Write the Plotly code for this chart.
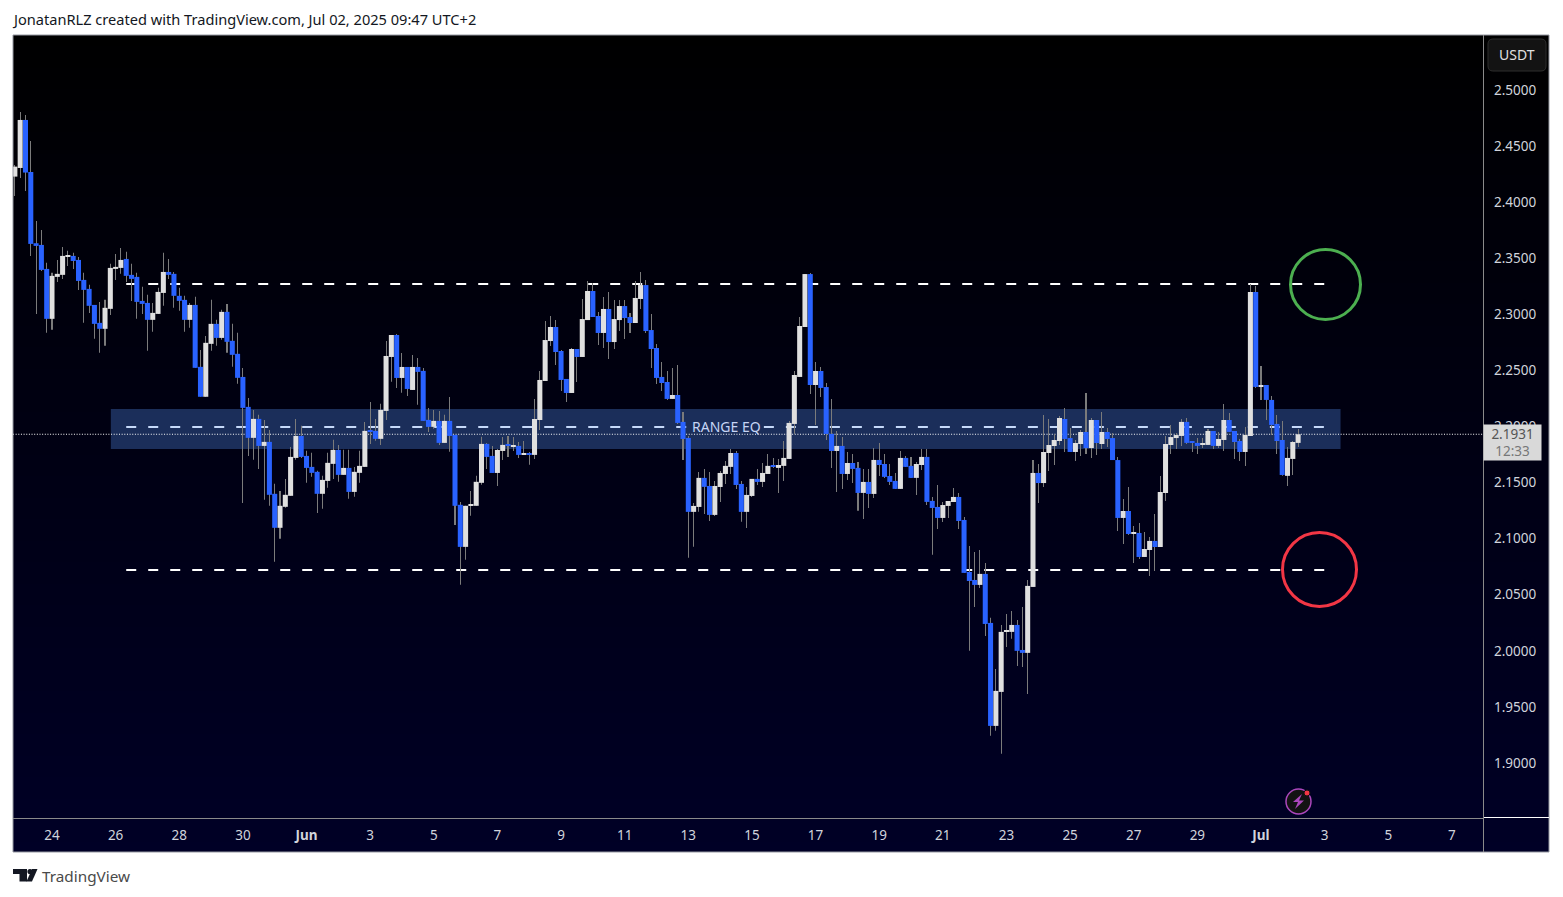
import pandas as pd
import plotly.graph_objects as go

opens = [
    2.4228, 2.4305, 2.4733, 2.4269, 2.3634, 2.3619, 2.3405, 2.2960, 2.3334, 2.3352,
    2.3512, 2.3521, 2.3485, 2.3307, 2.3227, 2.3084, 2.2924, 2.2871, 2.3049, 2.3405,
    2.3414, 2.3494, 2.3352, 2.3334, 2.3120, 2.3102, 2.2951, 2.3004, 2.3191, 2.3378,
    2.3361, 2.3165, 2.3129, 2.2951, 2.3084, 2.2532, 2.2265, 2.2737, 2.2915, 2.2790,
    2.3022, 2.2764, 2.2648, 2.2442, 2.2175, 2.1899, 2.2068, 2.1827, 2.1863, 2.1400,
    2.1097, 2.1284, 2.1382, 2.1720, 2.1916, 2.1738, 2.1640, 2.1596, 2.1400, 2.1515,
    2.1667, 2.1792, 2.1569, 2.1631, 2.1417, 2.1587, 2.1640, 2.1961, 2.1961, 2.1890,
    2.2139, 2.2620, 2.2816, 2.2433, 2.2531, 2.2326, 2.2531, 2.2496, 2.2059, 2.1997,
    2.2050, 2.1854, 2.2050, 2.1925, 2.1302, 2.0927, 2.1293, 2.1293, 2.1498, 2.1845,
    2.1738, 2.1586, 2.1782, 2.1836, 2.1818, 2.1827, 2.1747, 2.1764, 2.1747, 2.2058,
    2.2406, 2.2762, 2.2887, 2.2673, 2.2424, 2.2299, 2.2691, 2.2620, 2.2949, 2.3208,
    2.2985, 2.2834, 2.3048, 2.2753, 2.2949, 2.3074, 2.2976, 2.2923, 2.3137, 2.3261,
    2.2860, 2.2700, 2.2442, 2.2397, 2.2246, 2.2281, 2.2041, 2.1898, 2.1239, 2.1283,
    2.1542, 2.1470, 2.1212, 2.1461, 2.1577, 2.1640, 2.1764, 2.1488, 2.1239, 2.1381,
    2.1533, 2.1506, 2.1577, 2.1649, 2.1631, 2.1649, 2.1711, 2.2023, 2.2442, 2.2887,
    2.3359, 2.2370, 2.2495, 2.2352, 2.1934, 2.1782, 2.1827, 2.1577, 2.1675, 2.1631,
    2.1408, 2.1506, 2.1399, 2.1702, 2.1666, 2.1559, 2.1515, 2.1444, 2.1720, 2.1649,
    2.1542, 2.1657, 2.1729, 2.1337, 2.1283, 2.1185, 2.1292, 2.1327, 2.1372, 2.1167,
    2.0703, 2.0632, 2.0588, 2.0686, 2.0249, 1.9331, 1.9634, 2.0169, 2.0169, 2.0231,
    2.0008, 1.9982, 2.0570, 2.1586, 2.1496, 2.1764, 2.1826, 2.1871, 2.2067, 2.1897,
    2.1773, 2.1844, 2.1951, 2.1808, 2.2058, 2.1844, 2.1951, 2.1897, 2.1701, 2.1185,
    2.1247, 2.1042, 2.1051, 2.0837, 2.0899, 2.0980, 2.0926, 2.1407, 2.1835, 2.1897,
    2.1916, 2.2041, 2.1862, 2.1854, 2.1836, 2.1836, 2.1960, 2.1827, 2.1880, 2.2058,
    2.1960, 2.1871, 2.1773, 2.1916, 2.3199, 2.2361, 2.2370, 2.2237, 2.2023, 2.1880,
    2.1560, 2.1711, 2.1854,
]
closes = [
    2.4317, 2.4733, 2.4264, 2.3628, 2.3610, 2.3396, 2.2960, 2.3343, 2.3361, 2.3521,
    2.3521, 2.3476, 2.3298, 2.3218, 2.3076, 2.2915, 2.2871, 2.3058, 2.3414, 2.3423,
    2.3485, 2.3343, 2.3316, 2.3111, 2.3093, 2.2951, 2.3013, 2.3200, 2.3378, 2.3352,
    2.3165, 2.3120, 2.2951, 2.3084, 2.2523, 2.2265, 2.2746, 2.2915, 2.2790, 2.3022,
    2.2755, 2.2639, 2.2434, 2.2166, 2.1899, 2.2068, 2.1827, 2.1863, 2.1391, 2.1097,
    2.1293, 2.1391, 2.1729, 2.1916, 2.1729, 2.1631, 2.1587, 2.1400, 2.1524, 2.1676,
    2.1792, 2.1569, 2.1631, 2.1417, 2.1596, 2.1649, 2.1961, 2.1952, 2.1890, 2.2148,
    2.2629, 2.2816, 2.2433, 2.2531, 2.2335, 2.2531, 2.2487, 2.2050, 2.1997, 2.2050,
    2.1854, 2.2050, 2.1916, 2.1293, 2.0927, 2.1293, 2.1302, 2.1507, 2.1845, 2.1729,
    2.1586, 2.1791, 2.1836, 2.1827, 2.1827, 2.1747, 2.1764, 2.1747, 2.2067, 2.2415,
    2.2771, 2.2887, 2.2664, 2.2415, 2.2299, 2.2691, 2.2620, 2.2958, 2.3208, 2.2976,
    2.2834, 2.3048, 2.2753, 2.2958, 2.3074, 2.2967, 2.2923, 2.3146, 2.3261, 2.2851,
    2.2691, 2.2433, 2.2388, 2.2246, 2.2281, 2.2032, 2.1889, 2.1239, 2.1292, 2.1542,
    2.1462, 2.1212, 2.1470, 2.1586, 2.1649, 2.1764, 2.1479, 2.1239, 2.1390, 2.1533,
    2.1506, 2.1586, 2.1649, 2.1640, 2.1657, 2.1720, 2.2032, 2.2459, 2.2896, 2.3359,
    2.2370, 2.2495, 2.2344, 2.1934, 2.1782, 2.1827, 2.1577, 2.1675, 2.1622, 2.1408,
    2.1506, 2.1399, 2.1702, 2.1657, 2.1551, 2.1506, 2.1444, 2.1720, 2.1640, 2.1542,
    2.1666, 2.1729, 2.1328, 2.1274, 2.1185, 2.1300, 2.1336, 2.1372, 2.1158, 2.0695,
    2.0623, 2.0588, 2.0686, 2.0240, 1.9331, 1.9643, 2.0169, 2.0178, 2.0231, 2.0000,
    1.9982, 2.0579, 2.1586, 2.1496, 2.1773, 2.1835, 2.1880, 2.2076, 2.1889, 2.1773,
    2.1853, 2.1951, 2.1808, 2.2058, 2.1853, 2.1951, 2.1889, 2.1701, 2.1185, 2.1247,
    2.1042, 2.1051, 2.0837, 2.0908, 2.0980, 2.0926, 2.1416, 2.1844, 2.1906, 2.1924,
    2.2041, 2.1854, 2.1854, 2.1827, 2.1845, 2.1960, 2.1827, 2.1889, 2.2058, 2.1952,
    2.1862, 2.1773, 2.1925, 2.3199, 2.2353, 2.2370, 2.2237, 2.2014, 2.1871, 2.1568,
    2.1720, 2.1862, 2.1931,
]
highs = [
    2.4332, 2.4804, 2.4777, 2.4546, 2.3833, 2.3753, 2.3459, 2.3370, 2.3485, 2.3601,
    2.3566, 2.3548, 2.3512, 2.3370, 2.3263, 2.3084, 2.3111, 2.3129, 2.3450, 2.3539,
    2.3592, 2.3557, 2.3450, 2.3370, 2.3245, 2.3174, 2.3102, 2.3236, 2.3548, 2.3494,
    2.3378, 2.3236, 2.3165, 2.3102, 2.3156, 2.2683, 2.2808, 2.3129, 2.2951, 2.3040,
    2.3093, 2.2915, 2.2835, 2.2522, 2.2255, 2.2148, 2.2104, 2.2059, 2.1970, 2.1489,
    2.1426, 2.1533, 2.1818, 2.2068, 2.2006, 2.1783, 2.1765, 2.1605, 2.1560, 2.1765,
    2.1881, 2.1836, 2.1792, 2.1792, 2.1640, 2.1783, 2.2041, 2.2219, 2.2068, 2.2202,
    2.2763, 2.2816, 2.2825, 2.2656, 2.2531, 2.2638, 2.2611, 2.2522, 2.2166, 2.2148,
    2.2139, 2.2104, 2.2264, 2.1925, 2.1328, 2.1293, 2.1426, 2.1560, 2.1908, 2.1854,
    2.1827, 2.1800, 2.1907, 2.1916, 2.1907, 2.1862, 2.1871, 2.1773, 2.2246, 2.2495,
    2.2941, 2.2985, 2.2949, 2.2682, 2.2424, 2.2700, 2.2691, 2.3137, 2.3297, 2.3279,
    2.3021, 2.3154, 2.3199, 2.3128, 2.3128, 2.3128, 2.3012, 2.3297, 2.3377, 2.3306,
    2.3003, 2.2736, 2.2575, 2.2495, 2.2522, 2.2549, 2.2130, 2.1916, 2.1319, 2.1595,
    2.1622, 2.1595, 2.1515, 2.1604, 2.1693, 2.1800, 2.1782, 2.1515, 2.1461, 2.1533,
    2.1622, 2.1675, 2.1755, 2.1720, 2.1711, 2.1871, 2.2049, 2.2495, 2.2976, 2.3359,
    2.3368, 2.2575, 2.2531, 2.2388, 2.2246, 2.1960, 2.1907, 2.1773, 2.1755, 2.1684,
    2.1622, 2.1622, 2.1809, 2.1853, 2.1755, 2.1666, 2.1586, 2.1782, 2.1738, 2.1729,
    2.1684, 2.1800, 2.1800, 2.1372, 2.1479, 2.1327, 2.1336, 2.1452, 2.1407, 2.1194,
    2.0935, 2.0882, 2.0899, 2.0784, 2.0294, 1.9839, 2.0231, 2.0329, 2.0356, 2.0276,
    2.0392, 2.0632, 2.1701, 2.1666, 2.2102, 2.2067, 2.1933, 2.2093, 2.2165, 2.1987,
    2.1880, 2.1969, 2.2299, 2.2076, 2.2058, 2.2129, 2.1987, 2.1942, 2.1728, 2.1354,
    2.1461, 2.1113, 2.1140, 2.1060, 2.1015, 2.1220, 2.1559, 2.1915, 2.2013, 2.1942,
    2.2067, 2.2076, 2.1862, 2.1898, 2.1898, 2.1978, 2.1960, 2.1952, 2.2201, 2.2121,
    2.1960, 2.1889, 2.1996, 2.3270, 2.3252, 2.2540, 2.2370, 2.2272, 2.2103, 2.2050,
    2.1818, 2.1871, 2.1978,
]
lows = [
    2.4056, 2.4216, 2.4100, 2.3521, 2.3004, 2.3387, 2.2835, 2.2862, 2.3289, 2.3316,
    2.3432, 2.3405, 2.3218, 2.2924, 2.3013, 2.2782, 2.2657, 2.2719, 2.2995, 2.3307,
    2.3361, 2.3289, 2.3120, 2.2960, 2.3004, 2.2675, 2.2844, 2.3004, 2.3076, 2.3316,
    2.3058, 2.3031, 2.2844, 2.2880, 2.2523, 2.2265, 2.2265, 2.2675, 2.2719, 2.2773,
    2.2657, 2.2532, 2.2381, 2.1319, 2.1738, 2.1703, 2.1622, 2.1346, 2.1293, 2.0794,
    2.0999, 2.1275, 2.1382, 2.1703, 2.1720, 2.1498, 2.1551, 2.1230, 2.1266, 2.1453,
    2.1533, 2.1507, 2.1569, 2.1355, 2.1373, 2.1498, 2.1640, 2.1845, 2.1872, 2.1836,
    2.2059, 2.2398, 2.2344, 2.2300, 2.2273, 2.2326, 2.2193, 2.2050, 2.1952, 2.1979,
    2.1836, 2.1854, 2.1774, 2.1123, 2.0589, 2.0812, 2.1204, 2.1293, 2.1480, 2.1622,
    2.1586, 2.1470, 2.1702, 2.1729, 2.1782, 2.1720, 2.1747, 2.1658, 2.1711, 2.1969,
    2.2406, 2.2718, 2.2549, 2.2317, 2.2219, 2.2299, 2.2397, 2.2620, 2.2949, 2.2976,
    2.2727, 2.2700, 2.2602, 2.2691, 2.2851, 2.2780, 2.2834, 2.2923, 2.3048, 2.2834,
    2.2522, 2.2379, 2.2317, 2.2237, 2.2246, 2.2023, 2.1702, 2.0829, 2.0927, 2.1239,
    2.1221, 2.1158, 2.1203, 2.1328, 2.1488, 2.1577, 2.1444, 2.1150, 2.1096, 2.1372,
    2.1479, 2.1461, 2.1577, 2.1631, 2.1408, 2.1515, 2.1711, 2.1934, 2.2442, 2.2887,
    2.2290, 2.2014, 2.2263, 2.1880, 2.1631, 2.1417, 2.1444, 2.1524, 2.1497, 2.1248,
    2.1176, 2.1274, 2.1363, 2.1559, 2.1542, 2.1479, 2.1444, 2.1444, 2.1640, 2.1542,
    2.1390, 2.1613, 2.1301, 2.0856, 2.1087, 2.1149, 2.1185, 2.1327, 2.1087, 2.0695,
    2.0000, 2.0392, 2.0561, 2.0133, 1.9242, 1.9287, 1.9082, 2.0035, 2.0107, 1.9866,
    1.9857, 1.9616, 2.0570, 2.1318, 2.1461, 2.1603, 2.1657, 2.1835, 2.1773, 2.1773,
    2.1692, 2.1737, 2.1755, 2.1719, 2.1746, 2.1799, 2.1817, 2.1701, 2.1069, 2.0953,
    2.1033, 2.0784, 2.0819, 2.0837, 2.0668, 2.0712, 2.0926, 2.1336, 2.1755, 2.1799,
    2.1827, 2.1845, 2.1773, 2.1756, 2.1809, 2.1836, 2.1800, 2.1809, 2.1782, 2.1952,
    2.1711, 2.1693, 2.1649, 2.1916, 2.2344, 2.2237, 2.2058, 2.1925, 2.1756, 2.1560,
    2.1470, 2.1568, 2.1818,
]
first_candle = "2025-05-22 22:00"

price_ticks = [2.50, 2.45, 2.40, 2.35, 2.30, 2.25, 2.20, 2.15, 2.10, 2.05, 2.00, 1.95, 1.90]
date_ticks = [
    "05-24", "05-26", "05-28", "05-30", "06-01", "06-03", "06-05", "06-07", "06-09", "06-11", "06-13", "06-15",
    "06-17", "06-19", "06-21", "06-23", "06-25", "06-27", "06-29", "07-01", "07-03", "07-05", "07-07",
]
date_labels = [
    "24", "26", "28", "30", "<b>Jun</b>", "3", "5", "7", "9", "11", "13", "15",
    "17", "19", "21", "23", "25", "27", "29", "<b>Jul</b>", "3", "5", "7",
]
range_high = 2.327
range_mid = 2.1996
range_low = 2.072
band_top = 2.2156
band_bottom = 2.1800

UP = "#e0e0e0"
DOWN = "#2962ff"
WICK = "#7b7b7b"
FONT = "Noto Sans"

# the browser keeps an 8px body margin, which is part of the white edge of the picture
FIG_W = 1547
FIG_H = 881
HOUR_MS = 3600000
CANDLE_MS = 4 * HOUR_MS
PX_PER_DAY = 31.816


def fx(px):
    return (px - 8) / FIG_W


def fy(px):
    return 1 - (px - 8) / FIG_H


def price_at(px):
    return 2.5 - (px - 90) / 1121.7


def date_at(px):
    return pd.Timestamp("2025-07-01 02:00") + pd.Timedelta(days=(px - 1261) / PX_PER_DAY)


def px_path(points, close=True):
    parts = [f"{'M' if i == 0 else 'L'}{fx(x):.5f},{fy(y):.5f}" for i, (x, y) in enumerate(points)]
    return " ".join(parts) + (" Z" if close else "")


def rounded_rect(x0, y0, x1, y1, r):
    return (
        f"M{fx(x0 + r):.5f},{fy(y0):.5f} L{fx(x1 - r):.5f},{fy(y0):.5f} "
        f"Q{fx(x1):.5f},{fy(y0):.5f} {fx(x1):.5f},{fy(y0 + r):.5f} "
        f"L{fx(x1):.5f},{fy(y1 - r):.5f} Q{fx(x1):.5f},{fy(y1):.5f} {fx(x1 - r):.5f},{fy(y1):.5f} "
        f"L{fx(x0 + r):.5f},{fy(y1):.5f} Q{fx(x0):.5f},{fy(y1):.5f} {fx(x0):.5f},{fy(y1 - r):.5f} "
        f"L{fx(x0):.5f},{fy(y0 + r):.5f} Q{fx(x0):.5f},{fy(y0):.5f} {fx(x0 + r):.5f},{fy(y0):.5f} Z"
    )


def paper_shape(**kwargs):
    return dict(xref="paper", yref="paper", layer="above", **kwargs)


def px_circle(cx, cy, r, **kwargs):
    return paper_shape(type="circle", x0=fx(cx - r), x1=fx(cx + r), y0=fy(cy + r), y1=fy(cy - r), **kwargs)


def data_line(x0, x1, y, color, dash, width):
    return dict(
        type="line", xref="x2", yref="y2", layer="below", x0=x0, x1=x1, y0=y, y1=y,
        line=dict(color=color, dash=dash, width=width),
    )


df = pd.DataFrame(dict(open=opens, high=highs, low=lows, close=closes))
df["time"] = pd.date_range(first_candle, periods=len(df), freq="4h")
df["top"] = df[["open", "close"]].max(axis=1)
df["bottom"] = df[["open", "close"]].min(axis=1)
up = df[df["close"] >= df["open"]]
down = df[df["close"] < df["open"]]

fig = go.Figure()

# black to navy wash behind the whole panel
fig.add_trace(
    go.Heatmap(
        x=[0, 1], y=[0, 1], z=[[1, 1], [0, 0]], zsmooth="best", showscale=False, hoverinfo="skip",
        colorscale=[[0, "#000000"], [1, "#000026"]], xaxis="x", yaxis="y",
    )
)

fig.add_trace(
    go.Bar(
        x=df["time"], y=df["high"] - df["low"], base=df["low"], width=200000,
        marker=dict(color=WICK, line=dict(width=0)), xaxis="x2", yaxis="y2", hoverinfo="skip",
    )
)
for part, color in ((up, UP), (down, DOWN)):
    fig.add_trace(
        go.Bar(
            x=part["time"], y=part["top"] - part["bottom"], base=part["bottom"], width=0.95 * CANDLE_MS,
            marker=dict(color=color, line=dict(width=0)), xaxis="x2", yaxis="y2", hoverinfo="skip",
        )
    )

x_range = [date_at(13), date_at(1483)]

shapes = [
    data_line("2025-05-26 10:00", "2025-07-03 02:00", range_high, "white", "10px,12px", 2),
    data_line("2025-05-26 10:00", "2025-07-03 02:00", range_low, "white", "10px,12px", 2),
    data_line("2025-05-26 10:00", "2025-06-13 02:00", range_mid, "white", "10px,12px", 2),
    data_line("2025-06-15 11:00", "2025-07-03 02:00", range_mid, "white", "10px,12px", 2),
    dict(
        type="rect", xref="x2", yref="y2", layer="below", x0="2025-05-25 22:24", x1="2025-07-03 14:00",
        y0=band_bottom, y1=band_top, fillcolor="rgba(82,139,236,0.33)", line=dict(width=0),
    ),
    data_line(x_range[0], x_range[1], closes[-1], "white", "1px,1.65px", 1),
    # panel frame
    paper_shape(type="rect", x0=fx(13), x1=fx(1549), y0=fy(852), y1=fy(35), line=dict(color="#9598a1", width=1)),
    paper_shape(type="line", x0=fx(1483.5), x1=fx(1483.5), y0=fy(852), y1=fy(35), line=dict(color="#8a8a8a", width=1)),
    paper_shape(type="line", x0=fx(13), x1=fx(1483), y0=fy(818.5), y1=fy(818.5), line=dict(color="#8a8a8a", width=1)),
    paper_shape(type="line", x0=fx(1484), x1=fx(1549), y0=fy(817.5), y1=fy(817.5), line=dict(color="#ffffff", width=1)),
    # target circles
    px_circle(1325.5, 284.5, 35, line=dict(color="#4caf50", width=3)),
    px_circle(1319.5, 569.5, 37, line=dict(color="#f23645", width=3)),
    # currency button
    paper_shape(type="path", path=rounded_rect(1488, 39, 1546, 71, 5), fillcolor="#131313", line=dict(color="#2e2e2e", width=1)),
    # alert badge
    px_circle(1298.5, 801.5, 12.5, fillcolor="#131313", line=dict(color="#ab47bc", width=1.5)),
    paper_shape(
        type="path",
        path=px_path([(1302, 794), (1293, 802), (1298, 802), (1295, 809), (1304, 800.5), (1299, 800.5)]),
        fillcolor="#ab47bc", line=dict(width=0),
    ),
    px_circle(1307, 793, 3, fillcolor="#f23645", line=dict(color="#131313", width=1)),
    # TradingView logo
    paper_shape(
        type="path",
        path=px_path([(13, 869), (27, 869), (27, 881.5), (19.5, 881.5), (19.5, 874), (13, 874)]),
        fillcolor="#131722", line=dict(width=0),
    ),
    px_circle(30, 871.5, 2.6, fillcolor="#131722", line=dict(width=0)),
    paper_shape(
        type="path",
        path=px_path([(32, 869), (37.5, 869), (32, 881.5), (26.5, 881.5)]),
        fillcolor="#131722", line=dict(width=0),
    ),
]

annotations = [
    dict(
        text="JonatanRLZ created with TradingView.com, Jul 02, 2025 09:47 UTC+2",
        xref="paper", yref="paper", x=fx(10), y=fy(19.5), xanchor="left", yanchor="middle", showarrow=False,
        font=dict(family=FONT, size=14.6, color="#131722"),
    ),
    dict(
        text="TradingView",
        xref="paper", yref="paper", x=fx(40), y=fy(876), xanchor="left", yanchor="middle", showarrow=False,
        font=dict(family=FONT, size=15.3, color="#4a4a4a"),
    ),
    dict(
        text="RANGE EQ",
        xref="x2", yref="y2", x=date_at(726), y=range_mid, xanchor="center", yanchor="middle", showarrow=False,
        font=dict(family=FONT, size=14, color="#c6d5f5"),
    ),
    dict(
        text="USDT",
        xref="paper", yref="paper", x=fx(1517), y=fy(55), xanchor="center", yanchor="middle", showarrow=False,
        font=dict(family=FONT, size=14, color="#e0e0e0"),
    ),
    dict(
        text=f"{closes[-1]:.4f}<br><span style='color:#777777'>12:33</span>",
        xref="paper", yref="paper", x=fx(1512.5), y=fy(442.5), xanchor="center", yanchor="middle", showarrow=False,
        width=57, height=35, bgcolor="#d9d9d9", borderpad=0,
        font=dict(family=FONT, size=13.5, color="#555555"),
    ),
]

fig.update_layout(
    width=FIG_W,
    height=FIG_H,
    autosize=False,
    margin=dict(l=0, r=0, t=0, b=0),
    paper_bgcolor="white",
    plot_bgcolor="rgba(0,0,0,0)",
    showlegend=False,
    barmode="overlay",
    font=dict(family=FONT),
    shapes=shapes,
    annotations=annotations,
    xaxis=dict(domain=[fx(13), fx(1549)], range=[0, 1], visible=False),
    yaxis=dict(domain=[fy(852), fy(35)], range=[0, 1], visible=False),
    xaxis2=dict(
        domain=[fx(13), fx(1483)], anchor="y2", range=x_range, showgrid=False, zeroline=False,
        tickmode="array", tickvals=[f"2025-{d} 02:00" for d in date_ticks], ticktext=date_labels,
        tickangle=0, ticks="", ticklabelstandoff=7, tickfont=dict(family=FONT, size=13.5, color="#d1d4dc"),
    ),
    yaxis2=dict(
        domain=[fy(818), fy(35)], anchor="x2", side="right", range=[price_at(818), price_at(35)],
        showgrid=False, zeroline=False, tickmode="array", tickvals=price_ticks,
        ticktext=[f"{p:.4f}" for p in price_ticks], ticks="", ticklabelstandoff=10,
        tickfont=dict(family=FONT, size=13.5, color="#d1d4dc"),
    ),
)

fig.write_html("out.html")
